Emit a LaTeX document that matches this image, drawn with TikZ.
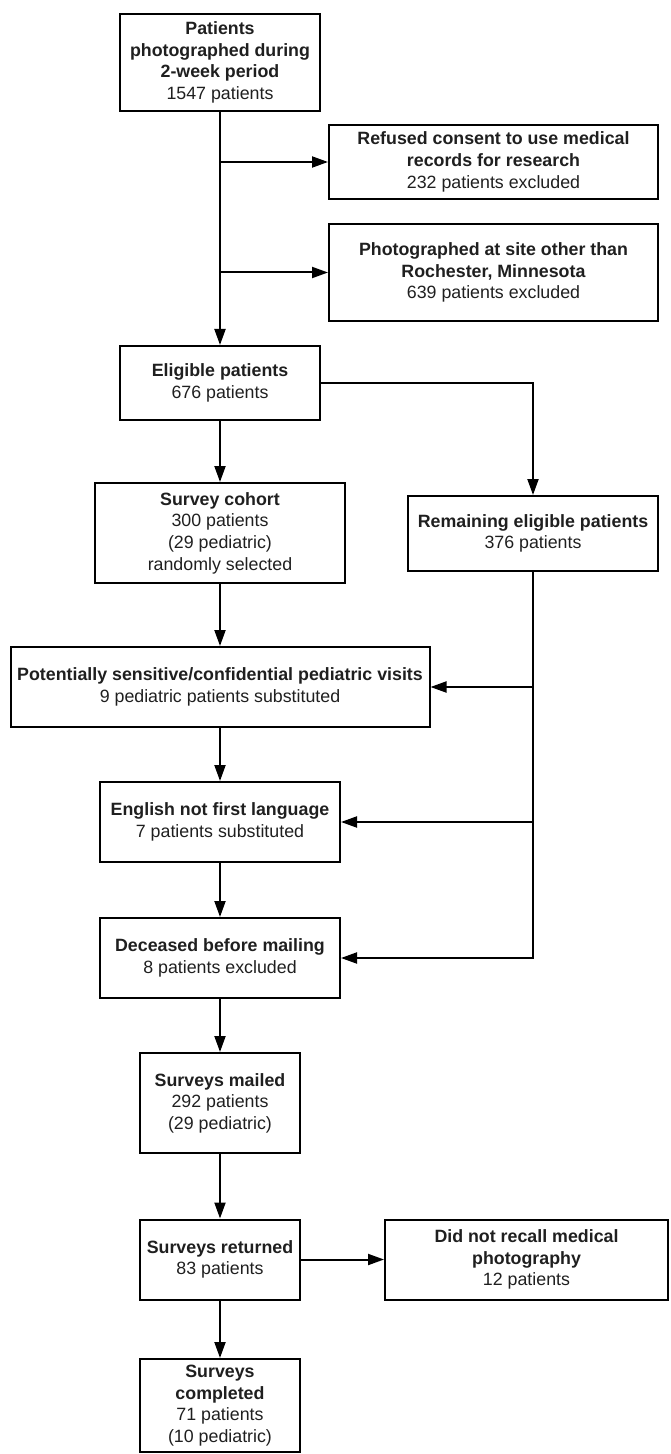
\documentclass[tikz,border=0pt]{standalone}
\usepackage{fontspec}
\setmainfont{Liberation Sans}
\usetikzlibrary{arrows.meta}
\tikzset{
  box/.style={draw, line width=1pt, align=center, inner sep=0pt, text=black!88,
    font=\fontsize{8.9}{10.8}\selectfont},
  arr/.style={line width=1pt, -{Triangle[length=8pt,width=5.5pt]}}
}
\begin{document}
\begin{tikzpicture}[x=0.5pt,y=-0.5pt]
\useasboundingbox (0,0) rectangle (670,1454);
\node[box, minimum width=100pt, minimum height=48.5pt] (b1) at (220,62.5)
  {\textbf{Patients}\\\textbf{photographed during}\\\textbf{2-week period}\\1547 patients};
\node[box, minimum width=164.5pt, minimum height=37pt] (ref) at (493.5,162)
  {\textbf{Refused consent to use medical}\\\textbf{records for research}\\232 patients excluded};
\node[box, minimum width=164.5pt, minimum height=48.5pt] (pho) at (493.5,272.5)
  {\textbf{Photographed at site other than}\\\textbf{Rochester, Minnesota}\\639 patients excluded};
\node[box, minimum width=100pt, minimum height=37pt] (elig) at (220,383)
  {\textbf{Eligible patients}\\676 patients};
\node[box, minimum width=125pt, minimum height=50pt] (survey) at (220,533)
  {\textbf{Survey cohort}\\300 patients\\(29 pediatric)\\randomly selected};
\node[box, minimum width=125pt, minimum height=37.5pt] (rem) at (533,533.5)
  {\textbf{Remaining eligible patients}\\376 patients};
\node[box, minimum width=209.5pt, minimum height=40pt] (pot) at (220,687)
  {\textbf{Potentially sensitive/confidential pediatric visits}\\9 pediatric patients substituted};
\node[box, minimum width=120pt, minimum height=40pt] (eng) at (220,822)
  {\textbf{English not first language}\\7 patients substituted};
\node[box, minimum width=120pt, minimum height=40pt] (dec) at (220,958)
  {\textbf{Deceased before mailing}\\8 patients excluded};
\node[box, minimum width=80pt, minimum height=50pt] (mail) at (220,1103)
  {\textbf{Surveys mailed}\\292 patients\\(29 pediatric)};
\node[box, minimum width=80pt, minimum height=40pt] (ret) at (220,1259.5)
  {\textbf{Surveys returned}\\83 patients};
\node[box, minimum width=141.5pt, minimum height=40pt] (did) at (526.5,1259.5)
  {\textbf{Did not recall medical}\\\textbf{photography}\\12 patients};
\node[box, minimum width=80pt, minimum height=46.5pt] (comp) at (220,1405.5)
  {\textbf{Surveys}\\\textbf{completed}\\71 patients\\(10 pediatric)};

\draw[arr] (b1) -- (elig);
\draw[arr] (b1.south |- ref.west) -- (ref.west);
\draw[arr] (b1.south |- pho.west) -- (pho.west);
\draw[arr] (elig.east) -| (rem.north);
\draw[arr] (elig) -- (survey);
\draw[arr] (survey) -- (pot);
\draw[arr] (pot) -- (eng);
\draw[arr] (eng) -- (dec);
\draw[arr] (dec) -- (mail);
\draw[arr] (mail) -- (ret);
\draw[arr] (ret) -- (comp);
\draw[arr] (ret) -- (did);
\draw[arr] (rem.south) |- (dec.east);
\draw[arr] (rem.south |- pot.east) -- (pot.east);
\draw[arr] (rem.south |- eng.east) -- (eng.east);
\end{tikzpicture}
\end{document}
